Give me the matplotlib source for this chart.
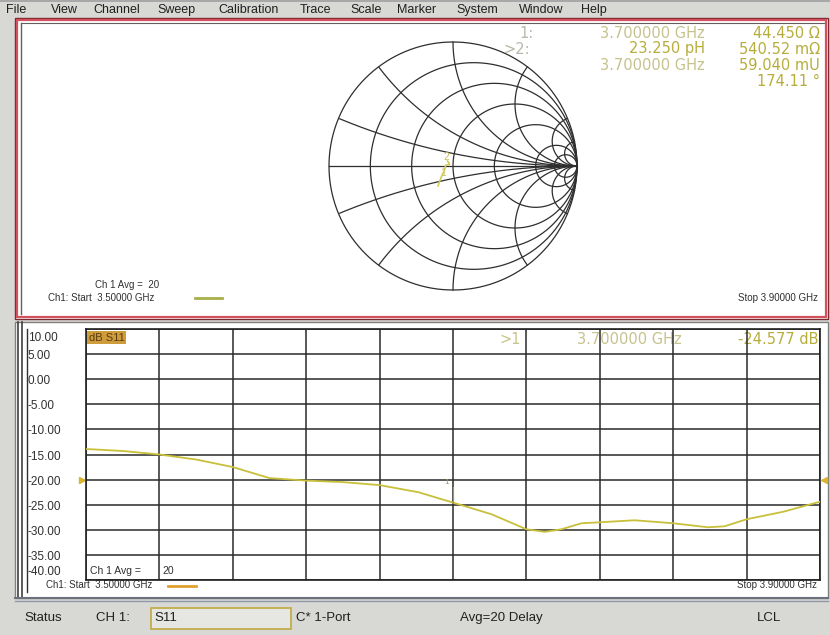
"""
Network analyzer screen: Smith chart (upper) and S11 log magnitude (lower).
"""

import matplotlib
matplotlib.use("Agg")
import matplotlib.pyplot as plt
import numpy as np
from matplotlib.patches import Rectangle
from matplotlib.transforms import blended_transform_factory

plt.rcParams['font.family'] = ['Liberation Sans', 'DejaVu Sans']

# S11 log magnitude trace (lower panel)
freq_ghz = [3.500, 3.520, 3.540, 3.560, 3.580, 3.600, 3.620, 3.640, 3.660, 3.681,
            3.700, 3.721, 3.740, 3.750, 3.759, 3.770, 3.780, 3.799, 3.820, 3.839,
            3.848, 3.860, 3.880, 3.900]
s11_db = [-13.9, -14.3, -15.0, -16.0, -17.5, -19.7, -20.2, -20.5, -21.1, -22.5,
          -24.58, -26.9, -29.9, -30.4, -29.9, -28.7, -28.5, -28.1, -28.7, -29.5,
          -29.3, -27.9, -26.4, -24.4]

# S11 on the Smith chart (reflection coefficient, real / imag)
smith_re = [-0.12, -0.11, -0.085, -0.07, -0.059, -0.028, -0.035, -0.03, -0.045]
smith_im = [-0.16, -0.13, -0.065, -0.04, 0.006, 0.012, 0.02, 0.022, 0.04]

# Smith chart grid
r_circles = [0.2, 0.5, 1, 2, 5, 10]
x_arcs = [0.2, 0.5, 1, 2, 5, 10]

# lower grid
y_ticks = [10, 5, 0, -5, -10, -15, -20, -25, -30, -35, -40]
f_start, f_stop = 3.5, 3.9
marker_freq = 3.7
marker_db = -24.577

menu_items = ["File", "View", "Channel", "Sweep", "Calibration", "Trace",
              "Scale", "Marker", "System", "Window", "Help"]
menu_x = [6, 51, 93, 157, 218, 300, 350, 397, 456, 519, 581]

W, H = 830, 635
fig = plt.figure(figsize=(W / 100, H / 100), dpi=100)
fig.patch.set_facecolor("#d8d8d5")

# background / window chrome in pixel coordinates
bg = fig.add_axes([0, 0, 1, 1])
bg.set_xlim(0, W)
bg.set_ylim(H, 0)
bg.axis('off')
bg.add_patch(Rectangle((0, 0), W, 2, color="#a8a8a8", lw=0))

for name, x in zip(menu_items, menu_x):
    bg.text(x, 10, name, fontsize=9, color="#202020", va='center', ha='left')

# upper panel
bg.add_patch(Rectangle((15, 18), 813, 301, facecolor="white", edgecolor="#7a2a30", lw=1))
bg.add_patch(Rectangle((17, 20), 809, 297, facecolor="none", edgecolor="#d4505c", lw=1.6))
bg.plot([21, 21], [23, 314], color="#606060", lw=1)
bg.plot([21, 824], [23, 23], color="#606060", lw=0.8)

bg.text(95, 285, "Ch 1 Avg =  20", fontsize=7, color="#303030", va='center')
bg.text(48, 298, "Ch1: Start  3.50000 GHz", fontsize=7, color="#303030", va='center')
bg.plot([195, 222], [298, 298], color="#a8b048", lw=2)
bg.text(818, 298, "Stop 3.90000 GHz", fontsize=7, color="#303030", va='center', ha='right')

# marker readout, upper
freq_col, val_col = "#c6c28c", "#b7ad3c"
ro = dict(fontsize=10.5, family='DejaVu Sans', va='center')
bg.text(519, 33, "1:", color="#b8b8a8", **ro)
bg.text(705, 33, f"{marker_freq:.6f} GHz", color=freq_col, ha='right', **ro)
bg.text(820, 33, "44.450 \u03a9", color=val_col, ha='right', **ro)
bg.text(705, 49, "23.250 pH", color=val_col, ha='right', **ro)
bg.text(820, 49, "540.52 m\u03a9", color=val_col, ha='right', **ro)
bg.text(503, 50, ">2:", color="#b8b8a8", **ro)
bg.text(705, 65, f"{marker_freq:.6f} GHz", color=freq_col, ha='right', **ro)
bg.text(820, 65, "59.040 mU", color=val_col, ha='right', **ro)
bg.text(820, 82, "174.11 \u00b0", color=val_col, ha='right', **ro)

# lower panel
bg.add_patch(Rectangle((15, 322), 813, 276, facecolor="white", edgecolor="#808080", lw=1))
bg.plot([18, 18], [322, 598], color="#404040", lw=1.2)
bg.plot([22, 22], [322, 598], color="#404040", lw=1.2)
bg.plot([27, 27], [329, 592], color="#303030", lw=1)
bg.plot([15, 828], [598, 598], color="#6a7080", lw=1.5)
bg.plot([15, 828], [601, 601], color="#9098a8", lw=1)

bg.text(90, 571, "Ch 1 Avg =", fontsize=7.5, color="#303030", va='center')
bg.text(162, 571, "20", fontsize=7.5, color="#303030", va='center')
bg.text(46, 585, "Ch1: Start  3.50000 GHz", fontsize=7, color="#303030", va='center')
bg.plot([168, 196], [586, 586], color="#e0a030", lw=2)
bg.text(817, 585, "Stop 3.90000 GHz", fontsize=7, color="#303030", va='center', ha='right')

bg.text(499, 340, ">1", color="#c8c48c", **ro)
bg.text(577, 340, f"{marker_freq:.6f} GHz", color=freq_col, **ro)
bg.text(818, 340, f"{marker_db:.3f} dB", color=val_col, ha='right', **ro)

# status bar
bg.add_patch(Rectangle((151, 608), 140, 21, facecolor="#e6e6e2", edgecolor="#c0a840", lw=1.2))
status = [(24, "Status"), (96, "CH 1:"), (154, "S11"), (296, "C* 1-Port"),
          (460, "Avg=20 Delay"), (757, "LCL")]
for x, s in status:
    bg.text(x, 618, s, fontsize=9.5, color="#202020", va='center')

# ---- lower log-magnitude plot ----
top, bottom = 329, 580
ax = fig.add_axes([86 / W, 1 - bottom / H, 734 / W, (bottom - top) / H])
ax.set_facecolor("none")
ax.set_xlim(f_start, f_stop)
ax.set_ylim(-40, 10)
ax.set_xticks(np.linspace(f_start, f_stop, 11))
ax.set_yticks(y_ticks)
ax.grid(True, color="#2a2a2a", lw=1.1)
ax.tick_params(length=0, labelleft=False, labelbottom=False)
for sp in ax.spines.values():
    sp.set_color("#202020")
    sp.set_linewidth(1.2)

ax.plot(freq_ghz, s11_db, color="#c8c03a", lw=1.3, zorder=3)
ax.plot([marker_freq, marker_freq], [marker_db, marker_db + 3.2], color="#a09a48", lw=0.8, zorder=3)
ax.text(marker_freq - 0.002, marker_db + 3.3, "1", fontsize=6, color="#a09a48", ha='right', va='bottom')

trans = blended_transform_factory(ax.transAxes, ax.transData)
for v in y_ticks:
    va = 'top' if v == 10 else ('bottom' if v == -40 else 'center')
    yy = 9.4 if v == 10 else (-39.6 if v == -40 else v - 0.4)
    ax.text(-0.0795, yy, f"{v:.2f}", transform=trans, fontsize=8.5,
            color="#303030", ha='left', va=va)

# reference position arrows at -20 dB
ax.plot([-0.006], [-20], marker='>', ms=4, color="#d8b430", transform=trans, clip_on=False)
ax.plot([1.006], [-20], marker='<', ms=4, color="#d8b430", transform=trans, clip_on=False)

ax.text(0.004, 0.985, "dB S11", transform=ax.transAxes, fontsize=8, color="#5a3a10",
        ha='left', va='top', bbox=dict(boxstyle='square,pad=0.15', fc="#cf9c3c", ec='none'))

# ---- Smith chart ----
cx, cy, rad = 453, 166, 124
lim = 1.1
span = 2 * lim * rad
sax = fig.add_axes([(cx - span / 2) / W, (H - cy - span / 2) / H, span / W, span / H])
sax.set_xlim(-lim, lim)
sax.set_ylim(-lim, lim)
sax.axis('off')
sax.patch.set_alpha(0)

grid_kw = dict(color="#2e2e2e", lw=0.9)
t = np.linspace(0, 2 * np.pi, 721)
sax.plot(np.cos(t), np.sin(t), **grid_kw)
sax.plot([-1, 1], [0, 0], **grid_kw)
for r in r_circles:
    c, rr = r / (1 + r), 1 / (1 + r)
    sax.plot(c + rr * np.cos(t), rr * np.sin(t), **grid_kw)
for x in x_arcs:
    for sgn in (1, -1):
        u = 1 + (1 / x) * np.cos(t)
        v = sgn / x + (1 / x) * np.sin(t)
        inside = u ** 2 + v ** 2 <= 1.0001
        u = np.where(inside, u, np.nan)
        v = np.where(inside, v, np.nan)
        sax.plot(u, v, **grid_kw)

sax.plot(smith_re, smith_im, color="#d4cc5a", lw=1.2, zorder=4)
mk = smith_re[4], smith_im[4]
sax.text(mk[0] + 0.005, mk[1] + 0.03, "2", fontsize=7.5, color="#c8c060", ha='center', va='bottom')
sax.text(mk[0] - 0.02, mk[1] - 0.02, "1", fontsize=7.5, color="#c8c060", ha='center', va='top')

fig.savefig("out.png", dpi=100, facecolor=fig.get_facecolor())
